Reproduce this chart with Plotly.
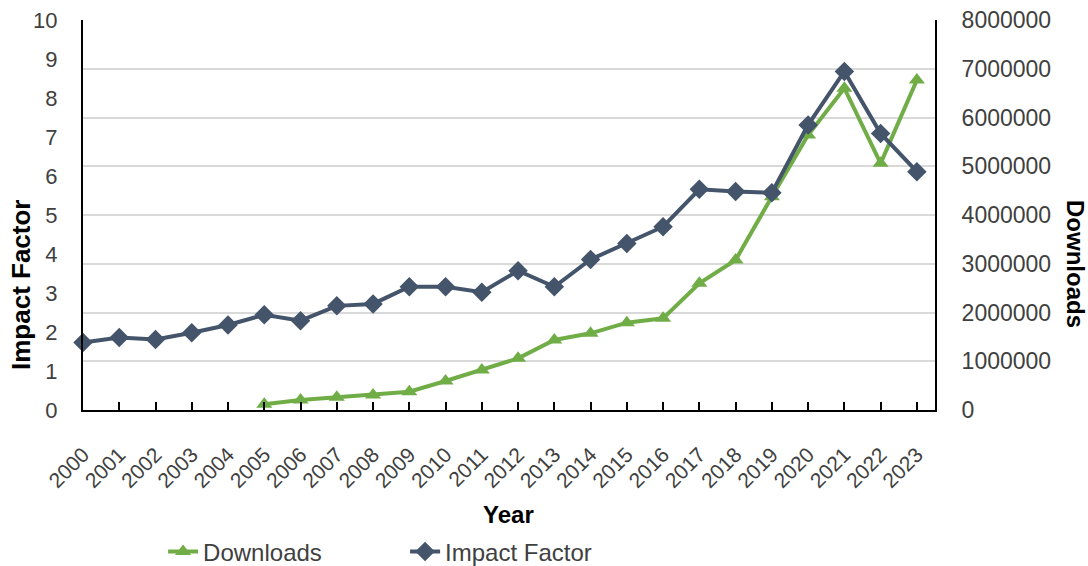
import plotly.graph_objects as go

years = list(range(2000, 2024))
impact_factor = [1.73, 1.86, 1.81, 1.98, 2.18, 2.44, 2.29, 2.67, 2.72, 3.16, 3.16, 3.02,
                 3.57, 3.16, 3.86, 4.27, 4.70, 5.66, 5.60, 5.57, 7.31, 8.68, 7.09, 6.11]
dl_years = list(range(2005, 2024))
downloads = [120000, 205000, 260000, 308000, 375000, 595000, 820000, 1060000, 1436000,
             1573000, 1791000, 1880000, 2600000, 3077000, 4376000, 5641000, 6600000,
             5060000, 6770000]
year_labels = [str(y) for y in years]

GREEN = "#70AD47"
NAVY = "#44546A"
TXT = "#404040"
FONT = "Liberation Sans"

fig = go.Figure()
fig.add_trace(go.Scatter(
    x=dl_years, y=downloads, name="Downloads", yaxis="y",
    mode="lines+markers", line=dict(color=GREEN, width=4),
    marker=dict(symbol="triangle-up", size=14, color=GREEN), cliponaxis=False))
fig.add_trace(go.Scatter(
    x=years, y=impact_factor, name="Impact Factor", yaxis="y2",
    mode="lines+markers", line=dict(color=NAVY, width=4),
    marker=dict(symbol="diamond", size=15, color=NAVY), cliponaxis=False))

fig.update_layout(
    width=1088, height=566,
    margin=dict(l=83, r=153, t=20, b=156, autoexpand=False),
    paper_bgcolor="white", plot_bgcolor="white",
    font=dict(family=FONT, color=TXT, size=20),
    showlegend=True,
    legend=dict(orientation="h", x=0.094, y=-0.364, xanchor="left", yanchor="middle",
                font=dict(family=FONT, size=24, color=TXT),
                entrywidth=197, entrywidthmode="pixels", tracegroupgap=0),
    xaxis=dict(range=[2000, 2023.5], tickmode="array", tickvals=years, ticktext=year_labels,
               tickangle=-45, ticks="inside", ticklen=8, tickcolor="black", tickwidth=1.5,
               showline=True, linecolor="black", linewidth=2, showgrid=False, zeroline=False,
               automargin=False, ticklabelstandoff=22, tickfont=dict(size=21, color=TXT)),
    yaxis=dict(side="right", range=[0, 8000000], dtick=1000000, tickformat="d",
               showgrid=True, gridcolor="#D9D9D9", gridwidth=1.5, zeroline=False,
               showline=True, linecolor="black", linewidth=2, ticks="", automargin=False,
               ticklabelstandoff=20, tickfont=dict(size=23, color=TXT)),
    yaxis2=dict(overlaying="y", side="left", range=[0, 10], dtick=1,
                showgrid=False, zeroline=False, showline=True, linecolor="black", linewidth=2,
                ticks="", automargin=False, ticklabelstandoff=19,
                tickfont=dict(size=22, color=TXT)),
    annotations=[
        dict(text="<b>Year</b>", x=(508 - 83) / 852, y=(410 - 514) / 390, xref="paper", yref="paper",
             xanchor="center", yanchor="middle",
             showarrow=False, font=dict(size=24, color="black")),
        dict(text="<b>Impact Factor</b>", x=(21 - 83) / 852, y=(410 - 285) / 390, xref="paper",
             yref="paper", xanchor="center", yanchor="middle",
             showarrow=False, textangle=-90, font=dict(size=26, color="black")),
        dict(text="<b>Downloads</b>", x=(1076 - 83) / 852, y=(410 - 264) / 390, xref="paper",
             yref="paper", xanchor="center", yanchor="middle",
             showarrow=False, textangle=90, font=dict(size=24, color="black")),
    ],
)

fig.write_html("out.html", config={"displayModeBar": False},
               post_script="document.body.style.margin='0px';")
